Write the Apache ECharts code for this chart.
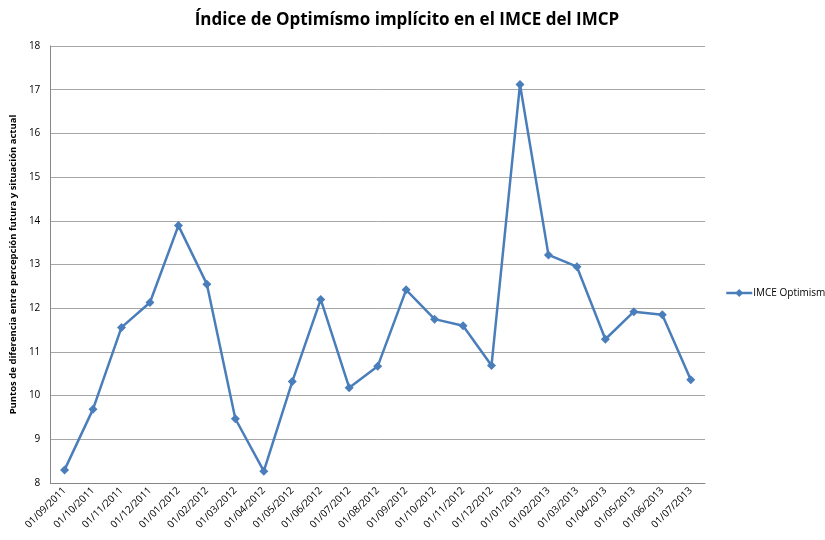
<!DOCTYPE html>
<html>
<head>
<meta charset="utf-8">
<script src="https://cdn.jsdelivr.net/npm/echarts@6/dist/echarts.min.js"></script>
<style>html,body{margin:0;padding:0;background:#fff}#c{width:825px;height:540px}</style>
</head>
<body>
<div id="c"></div>
<script>
const categories = ['01/09/2011','01/10/2011','01/11/2011','01/12/2011','01/01/2012','01/02/2012','01/03/2012','01/04/2012','01/05/2012','01/06/2012','01/07/2012','01/08/2012','01/09/2012','01/10/2012','01/11/2012','01/12/2012','01/01/2013','01/02/2013','01/03/2013','01/04/2013','01/05/2013','01/06/2013','01/07/2013'];
const optimismo = [8.30,9.69,11.56,12.13,13.89,12.55,9.47,8.27,10.32,12.20,10.18,10.67,12.42,11.75,11.60,10.69,17.12,13.22,12.95,11.29,11.92,11.85,10.36];
const seriesName = 'IMCE Optimismo';
const titleText = 'Índice de Optimísmo implícito en el IMCE del IMCP';
const yAxisName = 'Puntos de diferencia entre percepción futura y situación actual';

const chart = echarts.init(document.getElementById('c'), null, {renderer:'canvas'});
chart.setOption({
  animation:false,
  backgroundColor:'#fff',
  title:{text:titleText,left:402,top:7,textAlign:'center',
    textStyle:{fontFamily:'Open Sans',fontWeight:'bold',fontSize:17,color:'#000'}},
  legend:{orient:'vertical',left:720,top:283,itemWidth:26,itemHeight:10,itemGap:0,
    lineStyle:{width:2.5},
    textStyle:{fontFamily:'Open Sans',fontSize:10,color:'#000',padding:[0,0,0,-4]},
    data:[seriesName]},
  grid:{left:49,right:120,top:46,bottom:57,containLabel:false},
  xAxis:{type:'category',data:categories,boundaryGap:true,
    axisLine:{lineStyle:{color:'#868686',width:1}},
    axisTick:{show:false},
    axisLabel:{rotate:45,interval:0,fontFamily:'Open Sans',fontSize:10,color:'#000',margin:6}},
  yAxis:{type:'value',min:8,max:18,interval:1,
    name:yAxisName,nameLocation:'middle',nameGap:32,nameRotate:90,
    nameTextStyle:{fontFamily:'Open Sans',fontWeight:'bold',fontSize:9.5,color:'#000'},
    axisLine:{show:true,lineStyle:{color:'#868686',width:1}},
    axisTick:{show:false},
    splitLine:{lineStyle:{color:'#a6a6a6',width:1}},
    axisLabel:{fontFamily:'Open Sans',fontSize:10,color:'#000',margin:10}},
  series:[{name:seriesName,type:'line',data:optimismo,
    symbol:'diamond',symbolSize:9,
    lineStyle:{color:'#4a7ebb',width:2.5},
    itemStyle:{color:'#4a7ebb'}}]
});
</script>
</body>
</html>
